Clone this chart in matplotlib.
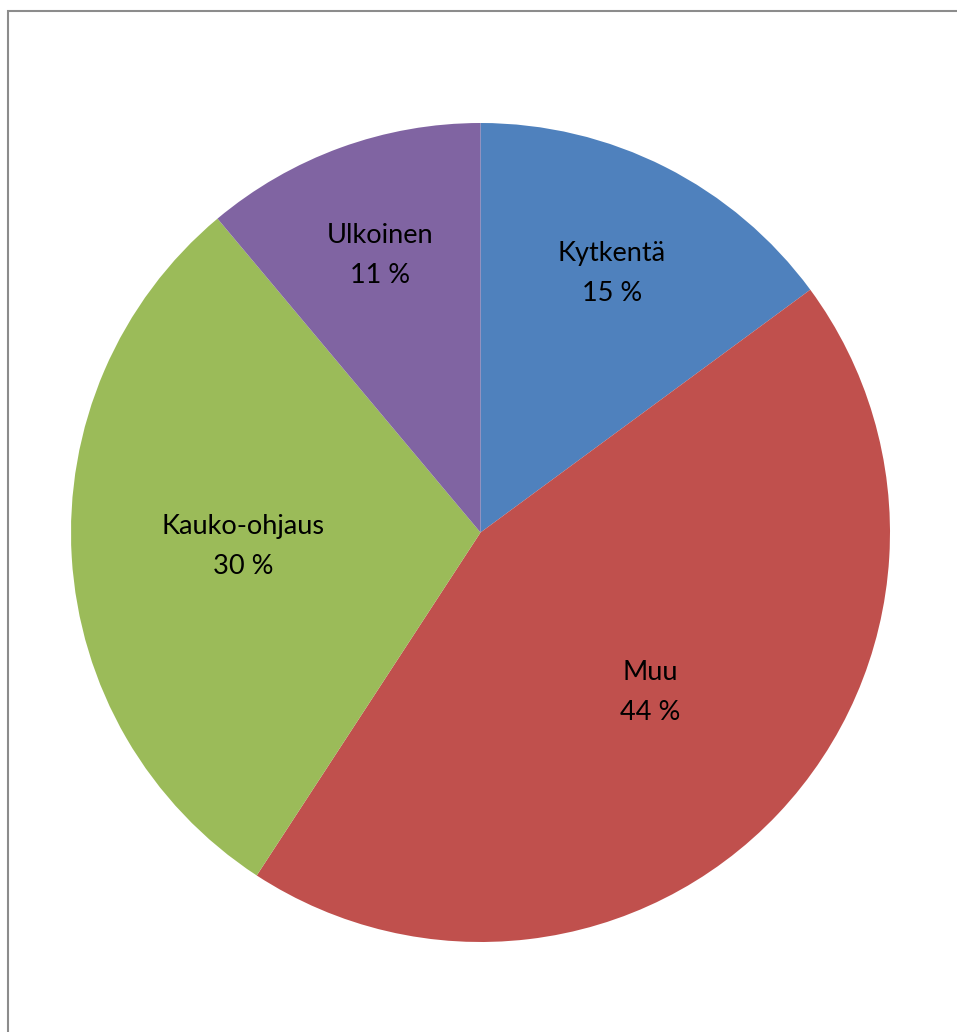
import numpy as np
import matplotlib.pyplot as plt
from matplotlib.patches import Rectangle

labels = ['Kytkentä', 'Muu', 'Kauko-ohjaus', 'Ulkoinen']
values = [14.9, 44.3, 29.7, 11.1]
colors = ['#4F81BD', '#C0504D', '#9BBB59', '#8064A2']
label_dist = [0.71, 0.57, 0.58, 0.72]

plt.rcParams['font.family'] = ['Lato', 'DejaVu Sans']

W, H = 957, 1032
fig = plt.figure(figsize=(W / 100, H / 100), dpi=100)

# chart area frame (runs off the right and bottom edge)
fig.patches.append(Rectangle((8 / W, -0.05), 1.2, 1 - 10.5 / H + 0.05,
	transform=fig.transFigure, fill=False, edgecolor='#8c8c8c', linewidth=1.5))

ax = fig.add_axes([71 / W, 90 / H, 819 / W, 819 / H])
wedges, _ = ax.pie(values, colors=colors, startangle=90, counterclock=False,
	radius=1, labeldistance=None, wedgeprops=dict(linewidth=0))

for w, lab, v, d in zip(wedges, labels, values, label_dist):
	ang = np.deg2rad((w.theta1 + w.theta2) / 2)
	ax.text(d * np.cos(ang), d * np.sin(ang), '%s\n%d %%' % (lab, round(v)),
		ha='center', va='center', fontsize=19.5, linespacing=1.75, color='black')

ax.set_xlim(-1, 1)
ax.set_ylim(-1, 1)
ax.set_aspect('equal')
ax.axis('off')

fig.savefig('out.png', dpi=100)
